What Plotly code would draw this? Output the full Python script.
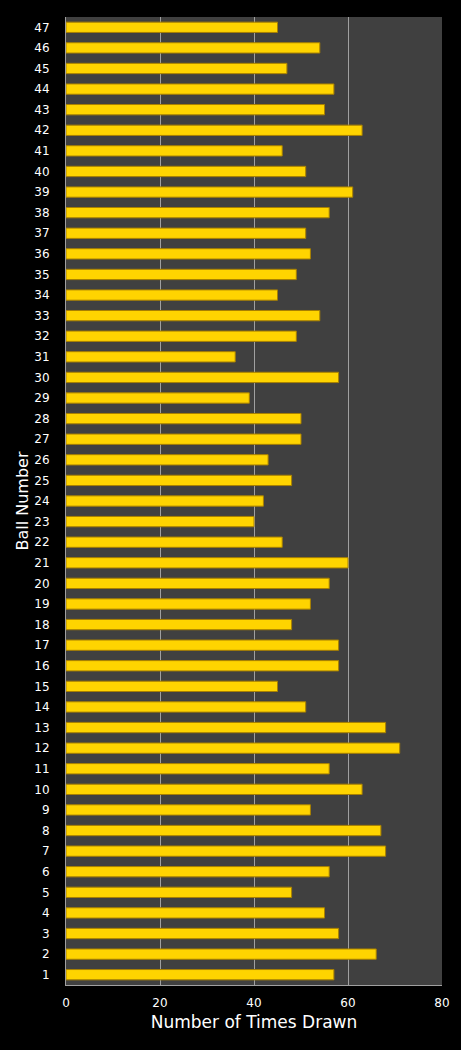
import plotly.graph_objects as go

balls = [str(n) for n in range(1, 48)]
times_drawn = [
    57, 66, 58, 55, 48, 56, 68, 67, 52, 63,
    56, 71, 68, 51, 45, 58, 58, 48, 52, 56,
    60, 46, 40, 42, 48, 43, 50, 50, 39, 58,
    36, 49, 54, 45, 49, 52, 51, 56, 61, 51,
    46, 63, 55, 57, 47, 54, 45,
]
x_ticks = [0, 20, 40, 60, 80]

fig = go.Figure()
fig.add_trace(
    go.Bar(
        x=times_drawn,
        y=balls,
        orientation="h",
        marker=dict(color="#FFD400", line=dict(color="#A88000", width=1)),
        width=0.5,
    )
)

fig.update_layout(
    width=461,
    height=1050,
    paper_bgcolor="black",
    plot_bgcolor="#404040",
    margin=dict(l=66, r=19, t=17, b=65),
    font=dict(family="DejaVu Sans", color="white", size=12),
    showlegend=False,
    bargap=0.5,
)
fig.update_xaxes(
    range=[0, 80],
    tickvals=x_ticks,
    showgrid=True,
    gridcolor="#A0A0A0",
    gridwidth=1,
    showline=True,
    linecolor="#A0A0A0",
    zeroline=False,
    ticks="",
    ticklabelstandoff=7,
    title=dict(text="Number of Times Drawn", font=dict(size=17), standoff=6),
    fixedrange=True,
)
fig.update_yaxes(
    type="category",
    categoryorder="array",
    categoryarray=balls,
    showgrid=False,
    showline=True,
    linecolor="#A0A0A0",
    ticks="",
    ticklabelstandoff=13,
    title=dict(text="Ball Number", font=dict(size=16), standoff=1),
    fixedrange=True,
)

# page edge: no white body margin around the black figure
fig.write_html(
    "out.html",
    config={"displayModeBar": False},
    post_script="document.body.style.margin='0';document.body.style.background='black';",
)
